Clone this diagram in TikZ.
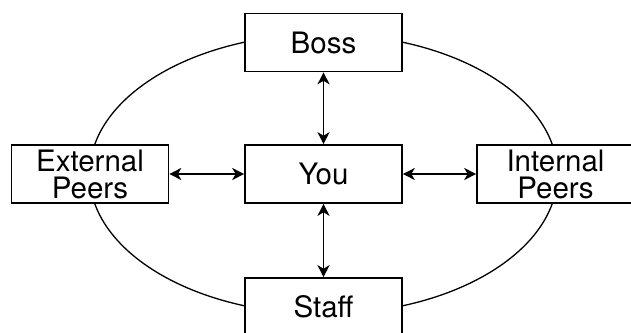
\documentclass[tikz,border=0pt]{standalone}
\usepackage{fontspec}
\setmainfont{TeX Gyre Heros}
\usetikzlibrary{arrows.meta,backgrounds}

\tikzset{
  party/.style={draw, fill=white, line width=1.6pt, minimum width=157pt,
    minimum height=58pt, inner sep=0pt, align=center,
    font=\fontsize{29.5}{27}\selectfont},
  talk/.style={{Stealth[length=12pt,width=12pt,inset=3.5pt]}-{Stealth[length=12pt,width=12pt,inset=3.5pt]},
    line width=1.5pt}
}

\begin{document}
\begin{tikzpicture}[x=1pt,y=-1pt]
            \useasboundingbox (0,0) rectangle (631,332);
            \node[party] (you) at (323.5,174) {You};
            \node[party] (boss) at (323.5,42.5) {Boss};
            \node[party] (staff) at (323.5,307) {Staff};
            \node[party] (extpeers) at (90,174) {External\\Peers};
            \node[party] (intpeers) at (555.5,174) {Internal\\Peers};

            \draw[talk] (boss) -- (you);
            \draw[talk] (you) -- (staff);
            \draw[talk] (extpeers) -- (you);
            \draw[talk] (you) -- (intpeers);

            \begin{pgfonlayer}{background}
              \draw[line width=1.3pt] (you.center) ellipse [x radius=234pt, y radius=140pt];
            \end{pgfonlayer}
\end{tikzpicture}
\end{document}
